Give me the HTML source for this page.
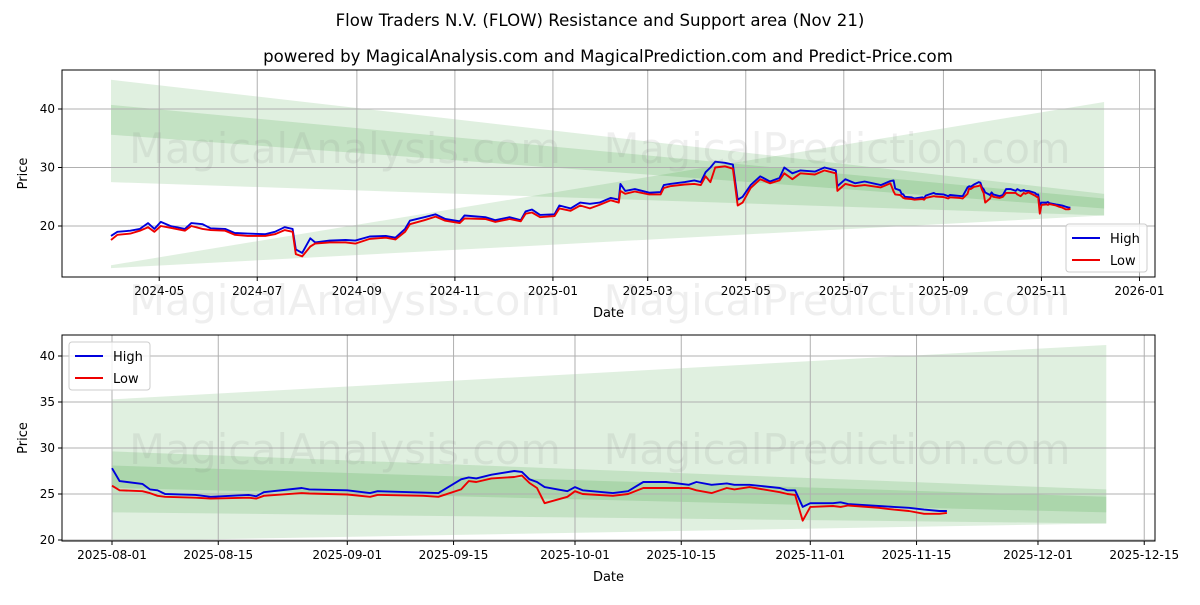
<!DOCTYPE html>
<html><head><meta charset="utf-8">
<style>
body{margin:0;background:#fff;font-family:"Liberation Sans","DejaVu Sans",sans-serif;}
svg text{font-family:"DejaVu Sans","Liberation Sans",sans-serif;}
</style></head>
<body>
<svg id="chart" width="1200" height="600" xmlns="http://www.w3.org/2000/svg">
<rect width="1200" height="600" fill="#fff"/>
<text x="600" y="26" text-anchor="middle" font-size="16.6">Flow Traders N.V. (FLOW) Resistance and Support area (Nov 21)</text>
<text x="608" y="62" text-anchor="middle" font-size="16.6">powered by MagicalAnalysis.com and MagicalPrediction.com and Predict-Price.com</text>
<g id="topPanel"></g>
<g id="botPanel"></g>
</svg>
<script>
// days since 2024-04-01
const days=[0,4,12,18,23,27,31,37,46,50,57,62,71,77,85,96,102,108,113,115,119,124,127,136,146,152,161,171,177,183,186,195,202,208,217,220,233,239,248,255,258,262,267,276,279,286,292,298,304,311,316,317,320,326,335,342,344,348,357,363,367,370,373,376,382,387,390,393,398,404,410,416,419,424,429,438,444,451,452,457,463,469,479,485,
487,488,491,492,493,494,498,500,505,506,507,512,513,518,521,522,528,530,533,534,535,537,540,541,542,543,544,547,548,549,553,555,557,560,563,564,566,568,569,571,575,576,577,578,579,582,583,584,588,590,592,594,596,597];
const highs=[18.3,19.0,19.2,19.5,20.5,19.5,20.7,20.0,19.5,20.5,20.3,19.6,19.5,18.8,18.7,18.6,19.0,19.8,19.5,16.0,15.4,17.9,17.2,17.5,17.6,17.5,18.2,18.3,18.0,19.5,20.9,21.5,22.0,21.2,20.8,21.8,21.5,21.0,21.5,21.0,22.5,22.8,21.9,22.0,23.5,23.0,24.0,23.8,24.0,24.8,24.5,27.2,26.0,26.3,25.7,25.8,27.0,27.2,27.5,27.8,27.5,29.2,30.0,31.0,30.8,30.5,24.5,25.0,27.0,28.5,27.6,28.2,30.0,29.0,29.5,29.3,30.0,29.5,26.8,28.0,27.3,27.6,27.0,27.7,
27.8,26.4,26.1,25.5,25.4,25.0,24.9,24.7,24.9,24.75,25.2,25.65,25.5,25.4,25.1,25.3,25.15,25.1,26.6,26.8,26.7,27.1,27.5,27.4,26.6,26.3,25.75,25.3,25.75,25.4,25.1,25.3,26.3,26.3,26.0,26.3,26.0,26.15,26.0,26.0,25.65,25.4,25.4,23.6,24.0,24.0,24.1,23.9,23.7,23.6,23.5,23.3,23.15,23.15];
const lows=[17.6,18.5,18.7,19.2,19.8,19.0,20.0,19.7,19.2,20.0,19.5,19.3,19.2,18.5,18.3,18.3,18.6,19.3,19.0,15.2,14.8,16.5,17.0,17.2,17.2,17.0,17.8,18.0,17.7,19.0,20.3,21.0,21.6,20.9,20.5,21.3,21.2,20.7,21.2,20.8,22.1,22.3,21.5,21.7,23.0,22.6,23.5,23.0,23.6,24.4,24.0,26.0,25.5,25.9,25.4,25.4,26.5,26.8,27.1,27.2,27.0,28.5,27.5,30.0,30.2,29.8,23.5,24.0,26.5,28.0,27.3,27.8,29.0,28.0,29.0,28.8,29.5,29.0,26.0,27.2,26.8,27.0,26.6,27.3,
25.9,25.4,25.3,25.1,24.8,24.7,24.6,24.5,24.6,24.5,24.8,25.1,25.05,24.95,24.7,24.9,24.8,24.7,25.5,26.4,26.3,26.7,26.85,27.0,26.2,25.65,24.0,24.7,25.3,25.0,24.8,25.0,25.65,25.65,25.65,25.4,25.1,25.65,25.5,25.75,25.2,25.0,24.9,22.1,23.6,23.7,23.6,23.75,23.5,23.3,23.15,22.85,22.85,22.95];
// bands: [topStart,topEnd,botStart,botEnd]
const bandDays=[0,618];
const resOuter=[45.0,25.5,27.5,21.8];
const resInner=[40.7,24.7,35.6,23.0];
const supOuter=[13.3,41.2,12.8,21.8];
const topTicks=[[30,'2024-05'],[91,'2024-07'],[153,'2024-09'],[214,'2024-11'],[275,'2025-01'],[334,'2025-03'],[395,'2025-05'],[456,'2025-07'],[518,'2025-09'],[579,'2025-11'],[640,'2026-01']];
const botTicks=[[487,'2025-08-01'],[501,'2025-08-15'],[518,'2025-09-01'],[532,'2025-09-15'],[548,'2025-10-01'],[562,'2025-10-15'],[579,'2025-11-01'],[593,'2025-11-15'],[609,'2025-12-01'],[623,'2025-12-15']];
const topYTicks=[20,30,40];
const botYTicks=[20,25,30,35,40];

const NS='http://www.w3.org/2000/svg';
function mk(parent,tag,attrs,txt){const e=document.createElementNS(NS,tag);for(const k in attrs)e.setAttribute(k,attrs[k]);if(txt!=null)e.textContent=txt;parent.appendChild(e);return e;}

function panel(g,P,xs,ys,xt,yt,minDay,legend){
  const bands=[[resOuter,'rgba(0,128,0,0.12)','resistance-band'],[resInner,'rgba(0,128,0,0.13)','resistance-core-band'],[supOuter,'rgba(0,128,0,0.12)','support-band']];
  bands.forEach(b=>{
    const v=b[0];const d0=Math.max(bandDays[0],minDay),d1=bandDays[1];
    const f=(a,c,d)=>a+(c-a)*(d-bandDays[0])/(bandDays[1]-bandDays[0]);
    const pts=[[xs(d0),ys(f(v[0],v[1],d0))],[xs(d1),ys(v[1])],[xs(d1),ys(v[3])],[xs(d0),ys(f(v[2],v[3],d0))]];
    const p=mk(g,'polygon',{points:pts.map(q=>q.join(',')).join(' '),fill:b[1]});
    
    
  });
  xt.forEach(t=>{const x=xs(t[0]);
    const l=mk(g,'line',{x1:x,x2:x,y1:P.t,y2:P.b,stroke:'#b0b0b0','stroke-width':1});
    
    
    mk(g,'line',{x1:x,x2:x,y1:P.b,y2:P.b+4,stroke:'#000'});
    const tx=mk(g,'text',{x:x,y:P.b+18,'text-anchor':'middle','font-size':12},t[1]);
    
    
  });
  yt.forEach(v=>{const y=ys(v);
    const l=mk(g,'line',{x1:P.l,x2:P.r,y1:y,y2:y,stroke:'#b0b0b0','stroke-width':1});
    
    
    mk(g,'line',{x1:P.l-4,x2:P.l,y1:y,y2:y,stroke:'#000'});
    const tx=mk(g,'text',{x:P.l-7,y:y+4,'text-anchor':'end','font-size':12},String(v));
    
    
  });
  [[highs,'#0000dd','high-line'],[lows,'#ee0000','low-line']].forEach(s=>{
    let d='';days.forEach((dd,i)=>{if(dd<minDay)return;d+=(d?'L':'M')+xs(dd).toFixed(1)+','+ys(s[0][i]).toFixed(1);});
    const p=mk(g,'path',{d:d,fill:'none',stroke:s[1],'stroke-width':1.9,'stroke-linejoin':'round'});
    
    
  });
  const fr=mk(g,'rect',{x:P.l,y:P.t,width:P.r-P.l,height:P.b-P.t,fill:'none',stroke:'#000','stroke-width':1});
  
  
  const xl=mk(g,'text',{x:(P.l+P.r)/2,y:P.b+40,'text-anchor':'middle','font-size':13},'Date');
  
  
  const yl=mk(g,'text',{x:0,y:0,'text-anchor':'middle','font-size':13,transform:'translate(27,'+((P.t+P.b)/2)+') rotate(-90)'},'Price');
  
  
  const lg=mk(g,'g',{});
  
  
  mk(lg,'rect',{x:legend[0],y:legend[1],width:81,height:48,rx:3,fill:'rgba(255,255,255,0.8)',stroke:'#ccc'});
  [['High','#0000dd'],['Low','#ee0000']].forEach((e,i)=>{const y=legend[1]+14+i*22;
    const le=mk(lg,'g',{});
    
    
    mk(le,'line',{x1:legend[0]+6,x2:legend[0]+34,y1:y,y2:y,stroke:e[1],'stroke-width':2});
    mk(le,'text',{x:legend[0]+44,y:y+5,'font-size':13},e[0]);
  });
}
function wm(g,y){
  [['MagicalAnalysis.com',345],['MagicalPrediction.com',837]].forEach(w=>{
    const t=mk(g,'text',{x:w[1],y:y,'text-anchor':'middle','font-size':41.5,fill:'rgba(120,120,120,0.12)'},w[0]);
    
    
  });
}
const topG=document.getElementById('topPanel'),botG=document.getElementById('botPanel');
const PT={l:62,r:1155,t:70,b:277};
panel(topG,PT,d=>111+d*1.607,p=>226-(p-20)*5.85,topTicks,topYTicks,0,[1066,224]);
const PB={l:62,r:1155,t:335,b:541};
panel(botG,PB,d=>112+(d-487)*7.59,p=>494-(p-25)*9.2,botTicks,botYTicks,487,[69,342]);
const svgEl=document.getElementById('chart');
wm(svgEl,163);wm(svgEl,315);wm(svgEl,464);
</script>
</body></html>
